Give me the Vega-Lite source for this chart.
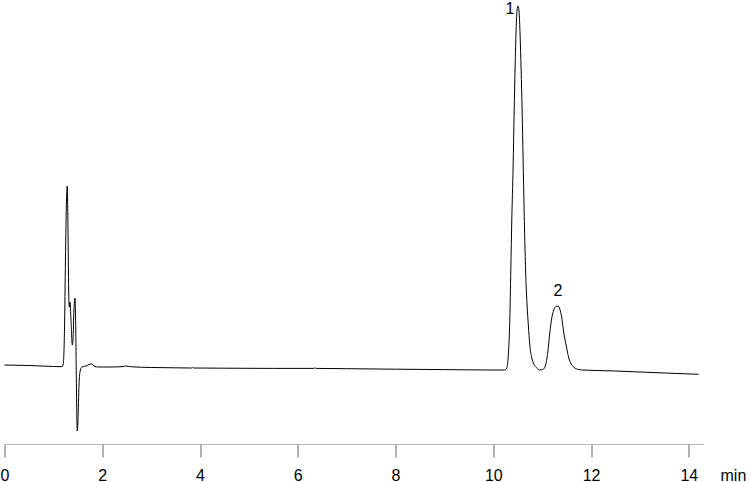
{
  "$schema": "https://vega.github.io/schema/vega-lite/v6.json",
  "autosize": "none",
  "width": 699,
  "height": 444,
  "padding": {"left": 4.5, "top": 0, "right": 46.5, "bottom": 38},
  "background": "white",
  "datasets": {
    "trace": [
      {"t": 0.0, "v": 1},
      {"t": 0.5, "v": 0.5},
      {"t": 1.0, "v": -0.5},
      {"t": 1.18, "v": -0.7},
      {"t": 1.202, "v": 2},
      {"t": 1.227, "v": 36},
      {"t": 1.247, "v": 106},
      {"t": 1.268, "v": 166},
      {"t": 1.284, "v": 180},
      {"t": 1.299, "v": 136},
      {"t": 1.313, "v": 76},
      {"t": 1.325, "v": 59},
      {"t": 1.339, "v": 64},
      {"t": 1.36, "v": 46},
      {"t": 1.387, "v": 21},
      {"t": 1.401, "v": 26},
      {"t": 1.421, "v": 56},
      {"t": 1.442, "v": 68},
      {"t": 1.458, "v": 36},
      {"t": 1.472, "v": -24},
      {"t": 1.489, "v": -65},
      {"t": 1.503, "v": -54},
      {"t": 1.524, "v": -19},
      {"t": 1.544, "v": -6},
      {"t": 1.575, "v": -1.5},
      {"t": 1.611, "v": -0.5},
      {"t": 1.667, "v": 0},
      {"t": 1.728, "v": 1.5},
      {"t": 1.783, "v": 2},
      {"t": 1.81, "v": 1},
      {"t": 1.851, "v": -0.5},
      {"t": 1.918, "v": -1},
      {"t": 2.2, "v": -1},
      {"t": 2.45, "v": -0.5},
      {"t": 2.47, "v": 0},
      {"t": 2.6, "v": -0.8},
      {"t": 3.0, "v": -1.5},
      {"t": 3.5, "v": -1.8},
      {"t": 3.83, "v": -2},
      {"t": 3.85, "v": -1.4},
      {"t": 3.87, "v": -2},
      {"t": 4.5, "v": -2.2},
      {"t": 5.5, "v": -2.4},
      {"t": 6.33, "v": -2.4},
      {"t": 6.35, "v": -1.8},
      {"t": 6.37, "v": -2.4},
      {"t": 7.0, "v": -2.7},
      {"t": 8.0, "v": -3.2},
      {"t": 9.0, "v": -3.6},
      {"t": 10.0, "v": -4},
      {"t": 10.23, "v": -4},
      {"t": 10.276, "v": -2},
      {"t": 10.307, "v": 11},
      {"t": 10.337, "v": 46},
      {"t": 10.358, "v": 96},
      {"t": 10.378, "v": 146},
      {"t": 10.405, "v": 199},
      {"t": 10.425, "v": 251},
      {"t": 10.446, "v": 299},
      {"t": 10.466, "v": 336},
      {"t": 10.487, "v": 356},
      {"t": 10.507, "v": 360},
      {"t": 10.528, "v": 354},
      {"t": 10.548, "v": 331},
      {"t": 10.569, "v": 296},
      {"t": 10.589, "v": 256},
      {"t": 10.61, "v": 206},
      {"t": 10.63, "v": 156},
      {"t": 10.65, "v": 114},
      {"t": 10.671, "v": 81},
      {"t": 10.691, "v": 61},
      {"t": 10.716, "v": 41},
      {"t": 10.747, "v": 21},
      {"t": 10.788, "v": 8},
      {"t": 10.828, "v": 2},
      {"t": 10.89, "v": -2},
      {"t": 10.951, "v": -4},
      {"t": 11.012, "v": -3.5},
      {"t": 11.064, "v": 0},
      {"t": 11.115, "v": 14},
      {"t": 11.155, "v": 33},
      {"t": 11.196, "v": 48},
      {"t": 11.237, "v": 56},
      {"t": 11.278, "v": 59.5},
      {"t": 11.325, "v": 60},
      {"t": 11.36, "v": 57},
      {"t": 11.401, "v": 48},
      {"t": 11.442, "v": 33},
      {"t": 11.497, "v": 19},
      {"t": 11.544, "v": 8},
      {"t": 11.595, "v": 2},
      {"t": 11.667, "v": -2},
      {"t": 11.749, "v": -3.5},
      {"t": 11.83, "v": -4},
      {"t": 12.5, "v": -5},
      {"t": 13.0, "v": -6},
      {"t": 13.5, "v": -7},
      {"t": 14.2, "v": -8.3}
    ],
    "peaks": [
      {"t": 10.34, "v": 352, "label": "1"},
      {"t": 11.32, "v": 70, "label": "2"}
    ]
  },
  "layer": [
    {
      "data": {"name": "trace"},
      "mark": {"type": "line", "color": "black", "strokeWidth": 1, "interpolate": "monotone"},
      "encoding": {
        "x": {
          "field": "t",
          "type": "quantitative",
          "scale": {"domain": [0, 14.3], "nice": false, "zero": false},
          "axis": {
            "title": "min",
            "titleX": 715.5,
            "titleY": 36,
            "titleAlign": "left",
            "titleBaseline": "alphabetic",
            "titleAnchor": null,
            "titleFont": "Liberation Sans",
            "titleFontSize": 16,
            "titleFontWeight": "normal",
            "titleColor": "black",
            "values": [0, 2, 4, 6, 8, 10, 12, 14],
            "domainColor": "#b8b8b8",
            "domainWidth": 1,
            "tickColor": "#666666",
            "tickSize": 13,
            "tickWidth": 1,
            "labelFont": "Liberation Sans",
            "labelFontSize": 16,
            "labelColor": "black",
            "labelPadding": 10,
            "labelFlush": false,
            "labelBound": false,
            "labelOverlap": false,
            "grid": false
          }
        },
        "y": {
          "field": "v",
          "type": "quantitative",
          "scale": {"domain": [-78, 366], "nice": false, "zero": false},
          "axis": null
        }
      }
    },
    {
      "data": {"name": "peaks"},
      "mark": {"type": "text", "font": "Liberation Sans", "fontSize": 16, "color": "black", "baseline": "alphabetic", "align": "center"},
      "encoding": {
        "x": {"field": "t", "type": "quantitative"},
        "y": {"field": "v", "type": "quantitative"},
        "text": {"field": "label"}
      }
    }
  ],
  "config": {
    "view": {"stroke": null}
  }
}
